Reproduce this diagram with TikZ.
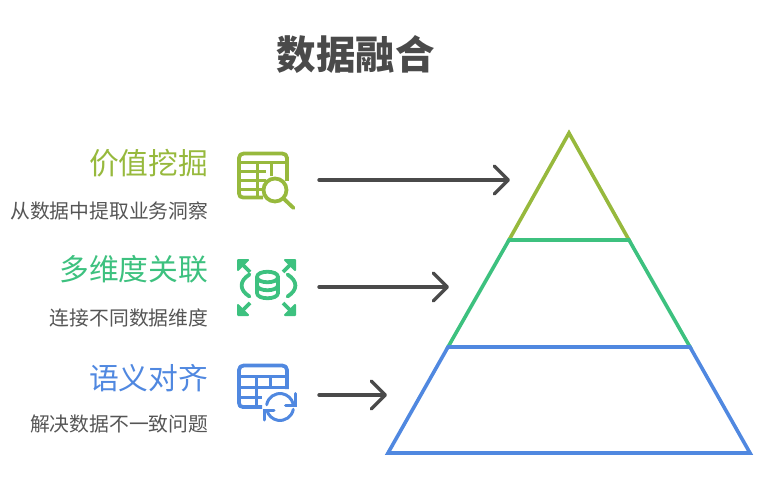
\documentclass[tikz,border=0pt]{standalone}
\usepackage{fontspec}
\setmainfont{Noto Sans CJK SC}
\usepackage{xcolor}
\usetikzlibrary{arrows.meta}
\definecolor{valuegreen}{HTML}{97B93D}
\definecolor{linkgreen}{HTML}{3DC17F}
\definecolor{alignblue}{HTML}{5088E0}
\definecolor{darkgray}{HTML}{4A4A4A}
\definecolor{subgray}{HTML}{555555}
\tikzset{
  headtext/.style={anchor=center,font=\fontsize{39.5}{40}\selectfont\bfseries,text=darkgray,inner sep=0pt},
  layertext/.style={anchor=east,font=\fontsize{29.8}{30}\selectfont,inner sep=0pt},
  subtext/.style={anchor=east,font=\fontsize{19.8}{20}\selectfont,text=subgray,inner sep=0pt},
  pointer/.style={draw=darkgray,line width=3.4pt,line cap=round,
    -{Straight Barb[length=14pt,width=28pt,round]}},
  layer/.style={line width=3.6pt,line join=miter},
  iconline/.style={line width=3.8pt,line join=round},
  iconthin/.style={line width=3pt}
}

\begin{document}
\begin{tikzpicture}[x=1pt,y=-1pt]
  \useasboundingbox (0,0) rectangle (768,489);
  \node[headtext] (title) at (355.5,54) {数据融合};
  % labels on the left
  \node[layertext,text=valuegreen] (valuehead) at (208.5,163) {价值挖掘};
  \node[subtext] (valuesub) at (208.5,211) {从数据中提取业务洞察};
  \node[layertext,text=linkgreen] (linkhead) at (208.5,269) {多维度关联};
  \node[subtext] (linksub) at (208.5,318) {连接不同数据维度};
  \node[layertext,text=alignblue] (alignhead) at (208.5,378) {语义对齐};
  \node[subtext] (alignsub) at (208.5,424) {解决数据不一致问题};
  % pyramid
  \coordinate (apex) at (569,133);
  \coordinate (al) at (509,240);
  \coordinate (ar) at (629,240);
  \coordinate (bl) at (448,347);
  \coordinate (br) at (690,347);
  \coordinate (cl) at (388,453);
  \coordinate (cr) at (750,453);
  \draw[layer,valuegreen] (apex) -- (ar) -- (al) -- cycle;
  \draw[layer,linkgreen] (al) -- (ar) -- (br) -- (bl) -- cycle;
  \draw[layer,alignblue] (bl) -- (br) -- (cr) -- (cl) -- cycle;
  % connectors
  \coordinate (valuefrom) at (319,180);
  \coordinate (valueto) at (510,180);
  \coordinate (linkfrom) at (319,287);
  \coordinate (linkto) at (449,287);
  \coordinate (alignfrom) at (319,395);
  \coordinate (alignto) at (387,395);
  \draw[pointer] (valuefrom) -- (valueto);
  \draw[pointer] (linkfrom) -- (linkto);
  \draw[pointer] (alignfrom) -- (alignto);
  % table with lens
  \begin{scope}[iconline,draw=valuegreen]
    \draw (263,197.5) -- (243,197.5) .. controls (240.5,197.5) and (239,196) .. (239,193.5)
      -- (239,158) .. controls (239,155) and (241,153.5) .. (244,153.5) -- (282,153.5)
      .. controls (285,153.5) and (287,155) .. (287,158) -- (287,181);
    \draw[iconthin] (239,163) -- (287,163);
    \foreach \y in {172,181,190}
      \draw[iconthin] (239,\y) -- (266,\y);
    \draw[iconthin] (257.5,163) -- (257.5,197);
    \draw[iconthin] (271.5,163) -- (271.5,176);
    \filldraw[fill=white] (275,190) circle[radius=11.5pt];
    \draw[line cap=round] (283.5,198.5) -- (293.5,208);
  \end{scope}
  % database with arrows
  \begin{scope}[iconline,draw=linkgreen]
    \draw (257,277) .. controls (257,270) and (278,270) .. (278,277) -- (278,293)
      .. controls (278,300) and (257,300) .. (257,293) -- cycle;
    \draw (257,277) .. controls (257,284) and (278,284) .. (278,277);
    \draw (257,285) .. controls (257,292) and (278,292) .. (278,285);
    \draw[line cap=round] (249.5,274.5) .. controls (239,281) and (239,290) .. (249.5,296.5);
    \draw[line cap=round] (287.5,274.5) .. controls (298,281) and (298,290) .. (287.5,296.5);
    \foreach \cx/\cy/\sx/\sy in {238/260/1/1,295/260/-1/1,238/315/1/-1,295/315/-1/-1}{
      \filldraw[linkgreen,line width=2pt,line join=round]
        (\cx+10*\sx,\cy) -- (\cx,\cy) -- (\cx,\cy+10*\sy) -- cycle;
      \draw[line width=3.8pt] (\cx+2*\sx,\cy+2*\sy) -- (\cx+12*\sx,\cy+12*\sy);
    }
  \end{scope}
  % table with cycle
  \begin{scope}[iconline,draw=alignblue]
    \draw (262,407) -- (243,407) .. controls (240.5,407) and (239,405.5) .. (239,403)
      -- (239,370) .. controls (239,367) and (241,365.5) .. (244,365.5) -- (282,365.5)
      .. controls (285,365.5) and (287,367) .. (287,370) -- (287,389);
    \draw[iconthin] (239,376.5) -- (287,376.5);
    \draw[iconthin] (239,387) -- (287,387);
    \draw[iconthin] (239,397) -- (262,397);
    \draw[iconthin] (256,376.5) -- (256,407);
    \draw[iconthin] (270.5,376.5) -- (270.5,387);
    % white gap behind the cycle
    \fill[white] (280,407) circle[radius=17pt];
    \draw[iconthin,line cap=round] (266.7,404.7) arc[start angle=170,end angle=15,radius=13.5pt];
    \draw[iconthin,line cap=round,line join=miter] (295,393.5) -- (295,405) -- (285.5,405);
    \draw[iconthin,line cap=round] (293.3,409.3) arc[start angle=-10,end angle=-165,radius=13.5pt];
    \draw[iconthin,line cap=round,line join=miter] (264.5,420) -- (264.5,410) -- (274,410);
  \end{scope}
\end{tikzpicture}
\end{document}
